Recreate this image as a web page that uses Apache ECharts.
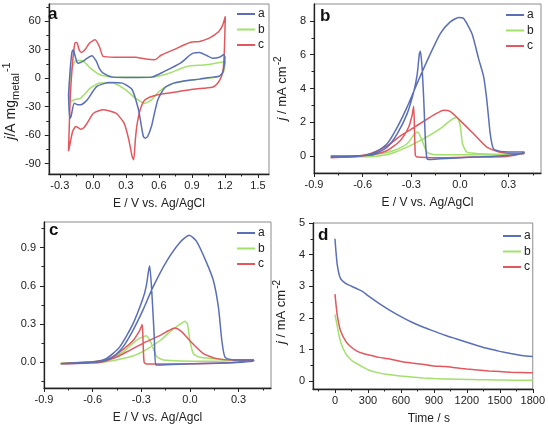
<!DOCTYPE html>
<html><head><meta charset="utf-8">
<script src="https://cdn.jsdelivr.net/npm/echarts@6/dist/echarts.min.js"></script>
<style>html,body{margin:0;padding:0;background:#fff}#c{width:548px;height:428px}</style>
</head><body><div id="c"></div>
<script>
// ---------- Panel a : CV (j / A mg_metal^-1 vs E) ----------
const aA_E = [-0.221,-0.205,-0.19,-0.178,-0.165,-0.145,-0.134,-0.1,-0.05,-0.008,0.03,0.06,0.094,0.181,0.35,0.532,0.649,0.795,0.88,0.911,0.97,1.03,1.086,1.15,1.188,1.2,1.195,1.18,1.15,1.086,0.97,0.853,0.736,0.649,0.59,0.55,0.532,0.5,0.479,0.459,0.44,0.415,0.357,0.269,0.152,0.036,-0.052,-0.11,-0.14,-0.169,-0.198,-0.207,-0.215,-0.221];
const aA_j = [-17.6,10,27,29.8,25,17,15.7,17,21,23.5,18,10,5.2,1,0.5,1,7,15.7,24,26.3,27,24,21,22,24.5,22,15,6,2,1,-1.1,-2.5,-5.3,-10.6,-23,-42,-51,-61,-63.3,-61.5,-50,-33.4,-12.3,-5.3,-4.6,-8.8,-23,-28,-28,-26.4,-40.5,-42.2,-35,-17.6];
const aB_E = [-0.212,-0.2,-0.183,-0.154,-0.096,-0.06,-0.023,0.065,0.181,0.532,0.678,0.853,1.028,1.203,1.195,1.188,1.144,0.97,0.736,0.619,0.532,0.473,0.386,0.298,0.181,0.065,-0.023,-0.11,-0.169,-0.198,-0.212,-0.212];
const aB_j = [-5.3,6,12.2,18.5,18.5,15,10.5,3.5,1,1,4.5,12.2,14,17.5,10,7,1.7,-1.1,-5.3,-12.3,-22.9,-26.4,-21,-12.3,-5.3,-5.3,-10.6,-21,-22.9,-24.6,-19.4,-5.3];
const aC_E = [-0.221,-0.205,-0.185,-0.163,-0.145,-0.125,-0.104,-0.07,-0.03,0.021,0.06,0.094,0.2,0.386,0.48,0.561,0.62,0.736,0.882,0.97,1.057,1.144,1.18,1.203,1.2,1.195,1.185,1.168,1.13,1.086,0.911,0.736,0.59,0.473,0.43,0.40,0.386,0.371,0.357,0.327,0.284,0.21,0.094,0.006,-0.052,-0.08,-0.11,-0.154,-0.183,-0.212,-0.221];
const aC_j = [-77,-20,15,36.8,37.5,30,27,30,37,40.3,33,22.8,22,22,20,19.3,24,30,37.5,38.6,42,49,56,65,51,30,10,1.7,-6,-9.6,-11.7,-15,-17.6,-22.9,-33.4,-50,-65,-86,-82.6,-65,-47.5,-37,-33.4,-37,-47.5,-52,-53.8,-51,-56,-72,-77];
const aXTicks = [-0.3,0,0.3,0.6,0.9,1.2,1.5];
const aYTicks = [-90,-60,-30,0,30,60];

// ---------- Panel b : j / mA cm^-2 vs E ----------
const bA_E = [-0.797,-0.633,-0.531,-0.449,-0.387,-0.326,-0.264,-0.182,-0.121,-0.06,-0.008,0.023,0.074,0.115,0.146,0.166,0.187,0.207,0.25,0.3,0.396,0.396,0.289,0.084,-0.121,-0.182,-0.203,-0.213,-0.223,-0.234,-0.244,-0.25,-0.264,-0.285,-0.326,-0.387,-0.449,-0.531,-0.633,-0.797];
const bA_j = [-0.06,-0.02,0.18,0.73,1.7,2.9,4.3,6.06,7.25,7.94,8.2,8.14,7.25,5.77,4.7,3.3,1.32,0.43,0.28,0.25,0.25,0.18,0.04,-0.06,-0.16,-0.2,-0.16,0.93,3.3,5.3,6.2,6.06,4.8,3.8,2.5,1.32,0.53,0.1,0.02,0.0];
const bB_E = [-0.797,-0.633,-0.531,-0.428,-0.326,-0.223,-0.121,-0.06,-0.02,0.0,0.006,0.016,0.043,0.125,0.289,0.392,0.392,0.2,-0.1,-0.162,-0.203,-0.234,-0.26,-0.28,-0.326,-0.408,-0.49,-0.6,-0.797];
const bB_j = [-0.06,-0.04,-0.02,0.14,0.53,1.03,1.62,2.1,2.28,1.9,1.5,0.73,0.23,0.14,0.1,0.14,0.1,0.08,0.08,0.1,0.23,0.93,1.42,1.3,0.73,0.33,0.14,0.02,-0.02];
const bC_E = [-0.797,-0.633,-0.55,-0.449,-0.367,-0.3,-0.2,-0.15,-0.1,-0.06,0.002,0.084,0.166,0.248,0.392,0.396,0.289,0.084,-0.121,-0.264,-0.275,-0.28,-0.285,-0.29,-0.295,-0.316,-0.367,-0.449,-0.531,-0.633,-0.797];
const bC_j = [-0.1,0.0,0.15,0.6,1.2,1.6,2.2,2.5,2.72,2.65,2.1,1.32,0.53,0.23,0.14,0.18,-0.02,-0.06,-0.1,-0.06,0.05,1.5,2.95,2.7,2.4,1.72,0.93,0.33,0.1,0.0,-0.08];
const bXTicks = [-0.9,-0.6,-0.3,0,0.3];
const bYTicks = [0,2,4,6,8];

// ---------- Panel c : normalised current vs E ----------
const cA_E = [-0.797,-0.66,-0.559,-0.476,-0.414,-0.352,-0.29,-0.228,-0.145,-0.062,-0.004,0.04,0.1,0.145,0.176,0.197,0.217,0.27,0.393,0.393,0.2,0.0,-0.19,-0.211,-0.22,-0.235,-0.248,-0.255,-0.269,-0.29,-0.352,-0.434,-0.517,-0.62,-0.797];
const cA_j = [-0.01,0.0,0.005,0.04,0.12,0.25,0.41,0.59,0.79,0.94,0.996,0.95,0.79,0.64,0.43,0.17,0.04,0.02,0.02,0.01,-0.005,-0.01,-0.02,-0.02,0.2,0.55,0.755,0.72,0.6,0.5,0.3,0.12,0.03,0.0,-0.01];
const cB_E = [-0.797,-0.559,-0.455,-0.352,-0.269,-0.186,-0.103,-0.06,-0.031,-0.015,0.0,0.021,0.062,0.27,0.393,0.393,0.1,-0.165,-0.207,-0.238,-0.269,-0.29,-0.31,-0.352,-0.414,-0.497,-0.6,-0.797];
const cB_j = [-0.005,0.0,0.02,0.05,0.1,0.17,0.26,0.3,0.323,0.3,0.17,0.07,0.04,0.02,0.02,0.015,0.01,0.02,0.05,0.15,0.21,0.2,0.19,0.15,0.08,0.03,0.005,-0.005];
const cC_E = [-0.797,-0.559,-0.476,-0.393,-0.29,-0.186,-0.13,-0.093,-0.05,0.0,0.083,0.166,0.27,0.393,0.393,0.27,0.0,-0.269,-0.283,-0.29,-0.294,-0.3,-0.31,-0.352,-0.414,-0.497,-0.6,-0.797];
const cC_j = [-0.01,0.0,0.03,0.08,0.15,0.21,0.25,0.27,0.24,0.17,0.07,0.03,0.02,0.02,0.02,0.0,-0.01,-0.013,0.005,0.2,0.297,0.28,0.25,0.17,0.1,0.03,0.005,-0.01];
const cXTicks = [-0.9,-0.6,-0.3,0,0.3];
const cYTicks = [0,0.3,0.6,0.9];

// ---------- Panel d : chronoamperometry ----------
const dTime = [0,20,50,100,150,200,250,300,400,500,600,700,800,900,1000,1100,1200,1300,1400,1500,1600,1700,1800];
const dA_j = [4.5,3.7,3.25,3.08,3.0,2.92,2.84,2.7,2.46,2.24,2.04,1.86,1.71,1.58,1.45,1.34,1.23,1.12,1.02,0.94,0.87,0.81,0.78];
const dB_j = [2.1,1.75,1.25,0.85,0.66,0.55,0.45,0.36,0.26,0.2,0.16,0.13,0.1,0.08,0.07,0.06,0.05,0.045,0.04,0.035,0.03,0.03,0.03];
const dC_j = [2.75,2.1,1.6,1.25,1.07,0.95,0.88,0.83,0.75,0.7,0.62,0.57,0.53,0.48,0.46,0.42,0.38,0.35,0.32,0.3,0.28,0.27,0.26];
const dXTicks = [0,300,600,900,1200,1500,1800];
const dYTicks = [0,1,2,3,4,5];

const seriesNames = ['a','b','c'];
const colors = ['#5b6fb7','#a3e06c','#e2585e'];

// ---------------------------------------------------------------
const FONT = 'Liberation Sans, Arial, sans-serif';
const TXT = '#222';
function minorsOf(t){const s=t[1]-t[0];const out=[];for(let i=-1;i<t.length;i++){out.push(+(t[0]+(i+0.5)*s).toFixed(6));}return out;}
function zip(x,y){return x.map((v,i)=>[v,y[i]]);}

const grids = [
  {left:43,top:4,width:226,height:170},
  {left:314,top:4,width:227,height:169},
  {left:44,top:222,width:227,height:166},
  {left:313,top:223,width:224,height:166}
];
const ranges = [
  {x:[-0.4,1.6],y:[-101,78],xt:aXTicks,yt:aYTicks,xf:v=>v.toFixed(1),yf:v=>String(v)},
  {x:[-0.9,0.5],y:[-1,9],xt:bXTicks,yt:bYTicks,xf:v=>v.toFixed(1),yf:v=>String(v)},
  {x:[-0.9,0.5],y:[-0.2,1.1],xt:cXTicks,yt:cYTicks,xf:v=>v.toFixed(1),yf:v=>v.toFixed(1)},
  {x:[-200,1800],y:[-0.25,5],xt:dXTicks,yt:dYTicks,xf:v=>String(v),yf:v=>String(v)}
];
const xNames = ['E / V vs. Ag/AgCl','E / V vs. Ag/AgCl','E / V vs. Ag/Agcl','Time / s'];
const yNames = ['{i|j}/A mg{sub|metal}{sup|-1}','{i|j} / mA cm{sup|-2}','','{i|j} / mA cm{sup|-2}'];
function richFor(big){return {
  i:{fontStyle:'italic',fontSize:big?14:13,fontFamily:FONT,color:TXT},
  sub:{fontSize:big?11:10,fontFamily:FONT,color:TXT,verticalAlign:'bottom',padding:[7,0,0,0]},
  sup:{fontSize:big?11:10,fontFamily:FONT,color:TXT,verticalAlign:'top',padding:[0,0,9,1]}
};}

const xAxis=[], yAxis=[];
ranges.forEach((r,g)=>{
  xAxis.push({gridIndex:g,type:'value',min:r.x[0],max:r.x[1],position:'bottom',
    axisLine:{onZero:false,lineStyle:{color:TXT,width:1.3}},
    axisTick:{customValues:r.xt,length:4,lineStyle:{color:TXT,width:1}},
    axisLabel:{customValues:r.xt,formatter:r.xf,color:TXT,fontSize:11,fontFamily:FONT,margin:6},
    splitLine:{show:false},
    name:xNames[g],nameLocation:'middle',nameGap:24,
    nameTextStyle:{fontSize:12,fontFamily:FONT,color:TXT,padding:g===3?[0,0,0,12]:0}});
  xAxis.push({gridIndex:g,type:'value',min:r.x[0],max:r.x[1],position:'bottom',
    axisLine:{show:false,onZero:false},axisLabel:{show:false},splitLine:{show:false},
    axisTick:{customValues:minorsOf(r.xt).filter(v=>v>r.x[0]&&v<r.x[1]),length:2.5,lineStyle:{color:TXT,width:1}}});
  yAxis.push({gridIndex:g,type:'value',min:r.y[0],max:r.y[1],position:'left',
    axisLine:{onZero:false,lineStyle:{color:TXT,width:1.3}},
    axisTick:{customValues:r.yt,length:4,lineStyle:{color:TXT,width:1}},
    axisLabel:{customValues:r.yt,formatter:r.yf,color:TXT,fontSize:11,fontFamily:FONT,margin:8},
    splitLine:{show:false},
    name:yNames[g],nameLocation:'middle',nameGap: g===0?26:22,
    nameTextStyle:{fontSize:g===0?14:13,fontFamily:FONT,color:TXT,rich:richFor(g===0),padding:g===0?[0,24,0,0]:(g===3?[0,12,0,0]:0)}});
  yAxis.push({gridIndex:g,type:'value',min:r.y[0],max:r.y[1],position:'left',
    axisLine:{show:false,onZero:false},axisLabel:{show:false},splitLine:{show:false},
    axisTick:{customValues:minorsOf(r.yt).filter(v=>v>r.y[0]&&v<r.y[1]),length:2.5,lineStyle:{color:TXT,width:1}}});
});

const panelData = [
  [zip(aA_E,aA_j),zip(aB_E,aB_j),zip(aC_E,aC_j)],
  [zip(bA_E,bA_j),zip(bB_E,bB_j),zip(bC_E,bC_j)],
  [zip(cA_E,cA_j),zip(cB_E,cB_j),zip(cC_E,cC_j)],
  [zip(dTime,dA_j),zip(dTime,dB_j),zip(dTime,dC_j)]
];
const series=[];
panelData.forEach((arr,g)=>{
  arr.forEach((d,k)=>{
    series.push({type:'line',name:seriesNames[k],xAxisIndex:2*g,yAxisIndex:2*g,data:d,
      showSymbol:false,symbol:'none',smooth:0.2,clip:true,silent:true,
      lineStyle:{color:colors[k],width:1.5},itemStyle:{color:colors[k]},z:2+(k===0?1:0)});
  });
});

const legendPos = [[237,8],[506,9],[237,227],[503,230]];
const legend = legendPos.map(p=>({left:p[0],top:p[1],orient:'vertical',data:seriesNames,padding:0,
  icon:'rect',itemWidth:18,itemHeight:2,itemGap:3.5,selectedMode:false,
  textStyle:{fontSize:12,fontFamily:FONT,color:TXT,lineHeight:12,padding:[0,0,0,-2]}}));

const letters = [['a',48,6],['b',320,8],['c',49,222],['d',318,227]];
const title = letters.map(l=>({text:l[0],left:l[1],top:l[2],padding:0,
  textStyle:{fontSize:17,fontWeight:'bold',fontFamily:FONT,color:'#111'}}));

const chart = echarts.init(document.getElementById('c'),null,{renderer:'canvas'});
chart.setOption({
  animation:false,
  backgroundColor:'#fff',
  title,
  grid:grids.map(g=>Object.assign({show:true,borderColor:'#8c8c8c',borderWidth:1,containLabel:false},g)),
  xAxis,yAxis,legend,series
});
</script></body></html>
